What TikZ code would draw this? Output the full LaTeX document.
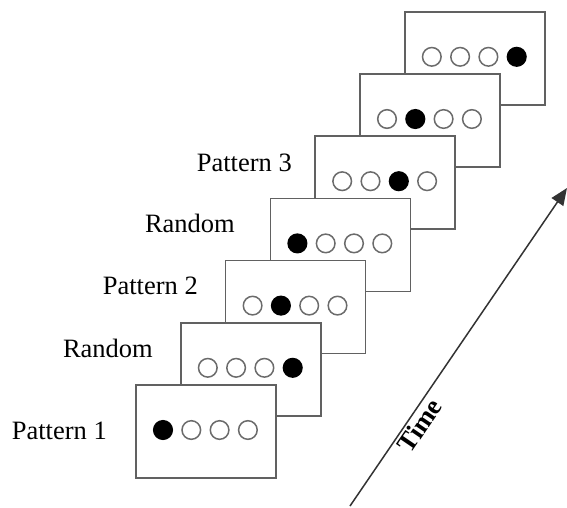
\documentclass[tikz,border=0pt]{standalone}
\usepackage{fontspec}
\setmainfont{Liberation Serif}
\usetikzlibrary{calc,arrows.meta}
\begin{document}
\begin{tikzpicture}[x=1pt,y=-1pt,
  screen/.style={draw=black!62,line width=1.7pt,fill=white,rectangle,
    minimum width=140pt,minimum height=93pt,anchor=north west,inner sep=0pt,outer sep=0pt},
  dot/.style={circle,draw=black!58,line width=1.5pt,fill=white,minimum size=18.6pt,inner sep=0pt},
  hit/.style={circle,draw=black,line width=1.5pt,fill=black,minimum size=18.6pt,inner sep=0pt},
  lab/.style={anchor=east,inner sep=0pt,font=\fontsize{26.5}{30}\selectfont},
  timeax/.style={draw=black!80,line width=1.5pt,-{Triangle[length=17pt,width=14pt]}}]
\useasboundingbox (0,0) rectangle (567,507);
\foreach \k/\f in {7/4,6/2,5/3,4/1,3/2,2/4,1/1}{
  \node[screen] (b\k) at ({136+44.8*(\k-1)},{385-62.2*(\k-1)}) {};
  \foreach \i in {1,2,3,4}{
    \ifnum\i=\f
      \node[hit] (c\k\i) at ($(b\k.north west)+({27+28.3*(\i-1)},45)$) {};
    \else
      \node[dot] (c\k\i) at ($(b\k.north west)+({27+28.3*(\i-1)},45)$) {};
    \fi
  }
}
\node[lab] (l1) at (107,431) {Pattern 1};
\node[lab] (l2) at (153,348) {Random};
\node[lab] (l3) at (198,286) {Pattern 2};
\node[lab] (l4) at (235,223) {Random};
\node[lab] (l5) at (292,163) {Pattern 3};
\coordinate (t0) at (350,506);
\coordinate (t1) at (567,188);
\draw[timeax] (t0) -- node[pos=0.275,sloped,below,inner sep=2pt,font=\bfseries\fontsize{26.5}{30}\selectfont] (tl) {Time} (t1);
\end{tikzpicture}
\end{document}
